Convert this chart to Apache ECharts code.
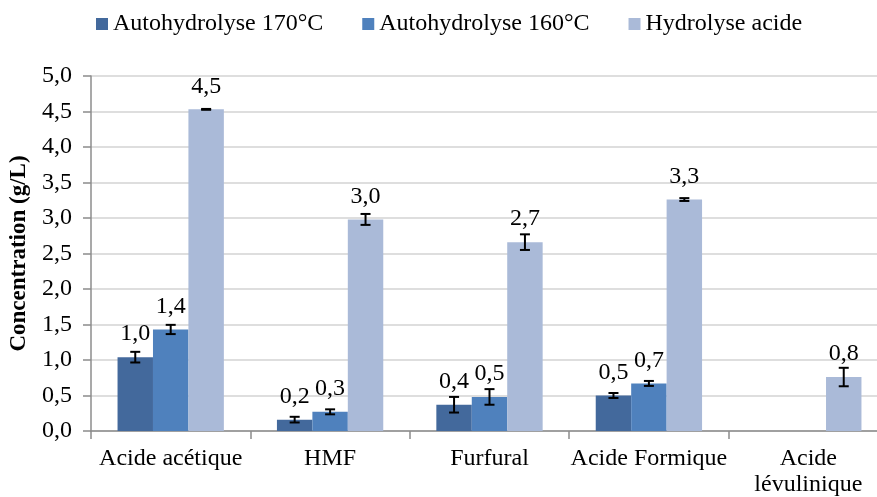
<!DOCTYPE html>
<html>
<head>
<meta charset="utf-8">
<script src="https://cdn.jsdelivr.net/npm/echarts@6/dist/echarts.min.js"></script>
<style>html,body{margin:0;padding:0;background:#fff}#c{width:877px;height:497px}</style>
</head>
<body>
<div id="c"></div>
<script>
var categories = ['Acide acétique', 'HMF', 'Furfural', 'Acide Formique', 'Acide\nlévulinique'];
var seriesNames = ['Autohydrolyse 170°C', 'Autohydrolyse 160°C', 'Hydrolyse acide'];
var auto170 = [1.04, 0.16, 0.37, 0.50, null];
var auto160 = [1.43, 0.27, 0.48, 0.67, null];
var hydro = [4.53, 2.98, 2.66, 3.26, 0.76];
var err170 = [0.075, 0.04, 0.11, 0.035, null];
var err160 = [0.065, 0.035, 0.11, 0.035, null];
var errHydro = [0.006, 0.077, 0.11, 0.02, 0.13];
var yTicks = [0, 0.5, 1, 1.5, 2, 2.5, 3, 3.5, 4, 4.5, 5];

var colors = ['#43699C', '#4F81BD', '#AABAD8'];
var FONT = '"Liberation Serif", "Times New Roman", serif';
var CAT_GAP = 0.333;

var values = [auto170, auto160, hydro];
var errs = [err170, err160, errHydro];
var errData = [];
for (var s = 0; s < 3; s++) {
  for (var i = 0; i < categories.length; i++) {
    if (values[s][i] != null && errs[s][i] != null) {
      errData.push([i, values[s][i] - errs[s][i], values[s][i] + errs[s][i], s]);
    }
  }
}

function fmt(v) { return v.toFixed(1).replace('.', ','); }

var barSeries = seriesNames.map(function (name, s) {
  return {
    name: name,
    type: 'bar',
    data: values[s],
    itemStyle: { color: colors[s] },
    barGap: '0%',
    barCategoryGap: (CAT_GAP * 100) + '%',
    label: {
      show: true,
      position: 'top',
      distance: 11,
      fontFamily: FONT,
      fontSize: 24,
      color: '#000',
      formatter: function (p) { return p.value == null ? '' : fmt(p.value); }
    }
  };
});

var chart = echarts.init(document.getElementById('c'));
chart.setOption({
  animation: false,
  textStyle: { fontFamily: FONT },
  legend: {
    data: seriesNames,
    left: 96,
    top: 12,
    padding: 0,
    itemWidth: 12,
    itemHeight: 12,
    itemGap: 39,
    icon: 'rect',
    textStyle: { fontFamily: FONT, fontSize: 24, color: '#000' }
  },
  grid: { left: 91, top: 76, bottom: 66, width: 797, outerBoundsMode: 'none', containLabel: false },
  xAxis: {
    type: 'category',
    data: categories,
    axisLine: { lineStyle: { color: '#8c8c8c', width: 1.5 } },
    axisTick: { show: true, length: 8, lineStyle: { color: '#8c8c8c', width: 1.5 } },
    axisLabel: { interval: 0, margin: 15, fontFamily: FONT, fontSize: 24, color: '#000', lineHeight: 26 }
  },
  yAxis: {
    type: 'value',
    min: 0,
    max: 5,
    interval: 0.5,
    name: 'Concentration (g/L)',
    nameLocation: 'middle',
    nameGap: 60,
    nameTextStyle: { fontFamily: FONT, fontSize: 23, fontWeight: 'bold', color: '#000' },
    axisLine: { show: true, lineStyle: { color: '#8c8c8c', width: 1.5 } },
    axisTick: { show: true, length: 8, lineStyle: { color: '#8c8c8c', width: 1.5 } },
    axisLabel: { margin: 19, fontFamily: FONT, fontSize: 24, color: '#000', formatter: function (v) { return fmt(v); } },
    splitLine: { lineStyle: { color: '#dedede', width: 2 } }
  },
  series: barSeries.concat([{
    type: 'custom',
    name: 'err',
    data: errData,
    z: 10,
    encode: { x: 0, y: [1, 2] },
    renderItem: function (params, api) {
      var ci = api.value(0);
      var lo = api.value(1), hi = api.value(2), s = api.value(3);
      var catW = api.size([1, 0])[0];
      var barW = catW * (1 - CAT_GAP) / 3;
      var cx = api.coord([ci, 0])[0] + (s - 1) * barW;
      var yLo = api.coord([ci, lo])[1];
      var yHi = api.coord([ci, hi])[1];
      var cap = 5;
      var st = { stroke: '#000', lineWidth: 2 };
      return {
        type: 'group',
        children: [
          { type: 'line', shape: { x1: cx, y1: yLo, x2: cx, y2: yHi }, style: st },
          { type: 'line', shape: { x1: cx - cap, y1: yLo, x2: cx + cap, y2: yLo }, style: st },
          { type: 'line', shape: { x1: cx - cap, y1: yHi, x2: cx + cap, y2: yHi }, style: st }
        ]
      };
    }
  }])
});
</script>
</body>
</html>
